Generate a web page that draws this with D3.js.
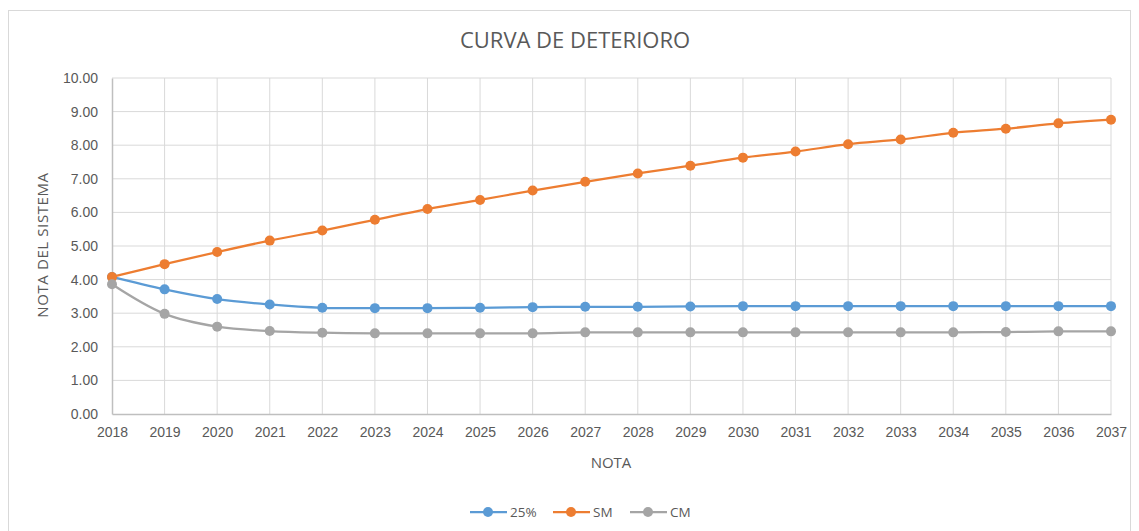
<!DOCTYPE html>
<html>
<head>
<meta charset="utf-8">
<script src="https://cdn.jsdelivr.net/npm/d3@7"></script>
<style>
    body { margin: 0; background: #fff; }
    svg { display: block; font-family: "Open Sans", "Noto Sans", sans-serif; }
    .grid line { stroke: #d9d9d9; stroke-width: 1; }
    .tick text { fill: #595959; font-size: 14px; }
</style>
</head>
<body>
<svg class="chart"></svg>
<script>
const YEARS = [2018, 2019, 2020, 2021, 2022, 2023, 2024, 2025, 2026, 2027,
               2028, 2029, 2030, 2031, 2032, 2033, 2034, 2035, 2036, 2037];

const SERIES_NAMES = ['25%', 'SM', 'CM'];
const SERIES_COLORS = ['#5b9bd5', '#ed7d31', '#a5a5a5'];

const VALUES_25 = [4.08, 3.71, 3.42, 3.26, 3.16, 3.15, 3.15, 3.16, 3.18, 3.19,
                   3.19, 3.20, 3.21, 3.21, 3.21, 3.21, 3.21, 3.21, 3.21, 3.21];
const VALUES_SM = [4.08, 4.46, 4.82, 5.16, 5.46, 5.78, 6.10, 6.37, 6.65, 6.91,
                   7.16, 7.39, 7.63, 7.81, 8.03, 8.17, 8.37, 8.49, 8.65, 8.76];
const VALUES_CM = [3.86, 2.98, 2.60, 2.47, 2.42, 2.40, 2.40, 2.40, 2.40, 2.43,
                   2.43, 2.43, 2.43, 2.43, 2.43, 2.43, 2.43, 2.44, 2.46, 2.46];

const Y_TICKS = [0, 1, 2, 3, 4, 5, 6, 7, 8, 9, 10];

const W = 1139, H = 531;
const plot = { left: 112, right: 1111, top: 78, bottom: 414 };

const svg = d3.select('svg.chart').attr('width', W).attr('height', H);

// chart frame
svg.append('rect')
    .attr('x', 8.5).attr('y', 10.5)
    .attr('width', 1122).attr('height', 530)
    .attr('fill', '#fff').attr('stroke', '#d9d9d9');

const x = d3.scalePoint().domain(YEARS).range([plot.left, plot.right]);
const y = d3.scaleLinear().domain([0, 10]).range([plot.bottom, plot.top]);

// horizontal grid
svg.append('g').attr('class', 'grid')
    .selectAll('line').data(Y_TICKS.slice(1)).enter().append('line')
        .attr('x1', plot.left).attr('x2', plot.right)
        .attr('y1', d => y(d)).attr('y2', d => y(d));

// vertical grid
svg.append('g').attr('class', 'grid')
    .selectAll('line').data(YEARS.slice(1)).enter().append('line')
        .attr('x1', d => x(d)).attr('x2', d => x(d))
        .attr('y1', plot.top).attr('y2', plot.bottom);

// axes
const yAxis = svg.append('g')
    .attr('transform', 'translate(' + plot.left + ',0)')
    .call(d3.axisLeft(y).tickValues(Y_TICKS).tickFormat(d3.format('.2f')).tickSize(0).tickPadding(14));
yAxis.select('.domain').attr('stroke', '#bfbfbf').attr('stroke-width', 1.5);

const xAxis = svg.append('g')
    .attr('transform', 'translate(0,' + plot.bottom + ')')
    .call(d3.axisBottom(x).tickSize(0).tickPadding(13));
xAxis.select('.domain').attr('stroke', '#bfbfbf').attr('stroke-width', 1.5);

// title and axis labels
svg.append('text')
    .attr('x', 575).attr('y', 48)
    .attr('text-anchor', 'middle')
    .attr('fill', '#595959').style('font-size', '22px')
    .text('CURVA DE DETERIORO');

svg.append('text')
    .attr('transform', 'translate(48,' + 245 + ') rotate(-90)')
    .attr('text-anchor', 'middle')
    .attr('fill', '#595959').style('font-size', '15px').style('letter-spacing', '0.6px')
    .text('NOTA DEL SISTEMA');

svg.append('text')
    .attr('x', 611).attr('y', 468)
    .attr('text-anchor', 'middle')
    .attr('fill', '#595959').style('font-size', '15px')
    .text('NOTA');

// series
const seriesData = [VALUES_25, VALUES_SM, VALUES_CM];
const line = d3.line()
    .x((d, i) => x(YEARS[i]))
    .y(d => y(d))
    .curve(d3.curveCatmullRom.alpha(0.5));

seriesData.forEach((values, s) => {
    const g = svg.append('g');
    g.append('path')
        .datum(values)
        .attr('d', line)
        .attr('fill', 'none')
        .attr('stroke', SERIES_COLORS[s])
        .attr('stroke-width', 2.25);
    g.selectAll('circle').data(values).enter().append('circle')
        .attr('cx', (d, i) => x(YEARS[i]))
        .attr('cy', d => y(d))
        .attr('r', 5)
        .attr('fill', SERIES_COLORS[s]);
});

// legend
const legendX = [470, 553, 630];
const legend = svg.append('g');
SERIES_NAMES.forEach((name, s) => {
    const lx = legendX[s], ly = 512;
    legend.append('line')
        .attr('x1', lx).attr('x2', lx + 37)
        .attr('y1', ly).attr('y2', ly)
        .attr('stroke', SERIES_COLORS[s]).attr('stroke-width', 2.25);
    legend.append('circle')
        .attr('cx', lx + 18).attr('cy', ly).attr('r', 5)
        .attr('fill', SERIES_COLORS[s]);
    legend.append('text')
        .attr('x', lx + 40).attr('y', ly + 5)
        .attr('fill', '#595959').style('font-size', '13.5px')
        .text(name);
});
</script>
</body>
</html>
